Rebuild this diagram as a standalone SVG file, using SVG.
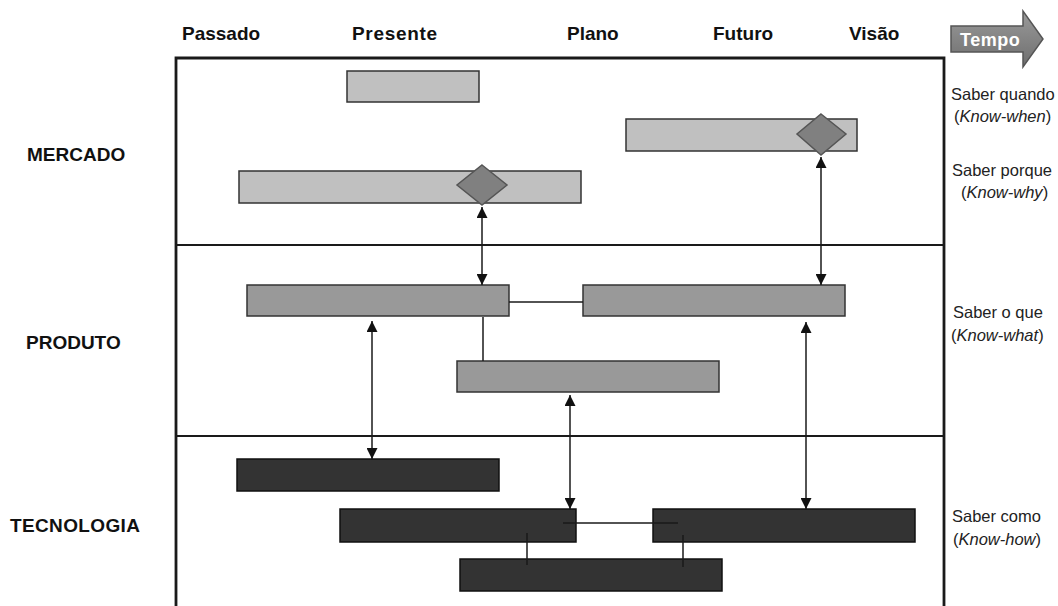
<svg xmlns="http://www.w3.org/2000/svg" width="1058" height="606" viewBox="0 0 1058 606">
<defs>
<style>
.hdr{font-family:"Liberation Sans",Arial,sans-serif;font-weight:bold;font-size:19px;fill:#111}
.side{font-family:"Liberation Sans",Arial,sans-serif;font-weight:bold;font-size:19px;fill:#111}
.know{font-family:"Liberation Sans",Arial,sans-serif;font-size:16.5px;fill:#222}
.it{font-style:italic}
.frame{fill:none;stroke:#1a1a1a;stroke-width:2.8}
.div{stroke:#1a1a1a;stroke-width:2}
.light{fill:#c0c0c0;stroke:#333;stroke-width:1.5}
.mid{fill:#999999;stroke:#333;stroke-width:1.5}
.dark{fill:#333333;stroke:#111;stroke-width:1.5}
.dia{fill:#808080;stroke:#555;stroke-width:1.5}
.arr{stroke:#1a1a1a;stroke-width:1.5;fill:none;marker-start:url(#ah);marker-end:url(#ah)}
.con{stroke:#1a1a1a;stroke-width:1.5;fill:none}
</style>
<marker id="ah" viewBox="0 0 10 10" refX="10" refY="5" markerWidth="11" markerHeight="11" markerUnits="userSpaceOnUse" orient="auto-start-reverse">
<path d="M0,0 L10,5 L0,10 z" fill="#111"/>
</marker>
<linearGradient id="tg" x1="0" y1="0" x2="0" y2="1">
<stop offset="0" stop-color="#9a9a9a"/>
<stop offset="1" stop-color="#6e6e6e"/>
</linearGradient>
</defs>
<rect width="1058" height="606" fill="#ffffff"/>

<g id="headers">
<text class="hdr" x="182" y="40">Passado</text>
<text class="hdr" x="352" y="40" textLength="85">Presente</text>
<text class="hdr" x="567" y="40">Plano</text>
<text class="hdr" x="713" y="40">Futuro</text>
<text class="hdr" x="849" y="40">Visão</text>
</g>

<g id="tempo">
<polygon points="951,26 1023,26 1023,11 1043,39 1023,67 1023,52 951,52" fill="url(#tg)" stroke="#555" stroke-width="1.5"/>
<text x="960" y="46" font-family="'Liberation Sans',Arial,sans-serif" font-weight="bold" font-size="18" fill="#ffffff" letter-spacing="0.5">Tempo</text>
</g>

<g id="frame">
<path class="frame" d="M176,610 V58 H944 V610"/>
<line class="div" x1="176" y1="245" x2="944" y2="245"/>
<line class="div" x1="176" y1="436" x2="944" y2="436"/>
</g>

<g id="row-labels">
<text class="side" x="27" y="161">MERCADO</text>
<text class="side" x="26" y="349">PRODUTO</text>
<text class="side" x="10" y="532" textLength="130">TECNOLOGIA</text>
</g>

<g id="know-labels">
<text class="know" x="951" y="100">Saber quando</text>
<text class="know" x="954" y="122">(<tspan class="it">Know-when</tspan>)</text>
<text class="know" x="952" y="176">Saber porque</text>
<text class="know" x="961" y="198">(<tspan class="it">Know-why</tspan>)</text>
<text class="know" x="953" y="318">Saber o que</text>
<text class="know" x="951" y="341">(<tspan class="it">Know-what</tspan>)</text>
<text class="know" x="952" y="522">Saber como</text>
<text class="know" x="953" y="545">(<tspan class="it">Know-how</tspan>)</text>
</g>

<g id="m1"><rect class="light" x="347" y="71" width="132" height="31"/></g>
<g id="m2"><rect class="light" x="626" y="119" width="231" height="32"/></g>
<g id="m3"><rect class="light" x="239" y="171" width="342" height="32"/></g>
<g id="d1"><polygon class="dia" points="482,165 507,185 482,205 457,185"/></g>
<g id="d2"><polygon class="dia" points="821,114 846,134 821,155 797,134"/></g>

<g id="p1"><rect class="mid" x="247" y="285" width="262" height="31"/></g>
<g id="p2"><rect class="mid" x="583" y="285" width="262" height="31"/></g>
<g id="p3"><rect class="mid" x="457" y="361" width="262" height="31"/></g>

<g id="t1"><rect class="dark" x="237" y="459" width="262" height="32"/></g>
<g id="t2"><rect class="dark" x="340" y="509" width="236" height="33"/></g>
<g id="t3"><rect class="dark" x="653" y="509" width="262" height="33"/></g>
<g id="t4"><rect class="dark" x="460" y="559" width="262" height="32"/></g>

<g id="connectors">
<line class="arr" x1="482" y1="207" x2="482" y2="285"/>
<line class="arr" x1="821" y1="157" x2="821" y2="285"/>
<line class="arr" x1="372" y1="321" x2="372" y2="459"/>
<line class="arr" x1="570" y1="395" x2="570" y2="509"/>
<line class="arr" x1="806" y1="322" x2="806" y2="509"/>
<line class="con" x1="509" y1="302" x2="583" y2="302"/>
<line class="con" x1="483" y1="317" x2="483" y2="361"/>
<line class="con" x1="563" y1="523" x2="678" y2="523"/>
<line class="con" x1="527" y1="533" x2="527" y2="565"/>
<line class="con" x1="683" y1="535" x2="683" y2="567"/>
</g>
</svg>
